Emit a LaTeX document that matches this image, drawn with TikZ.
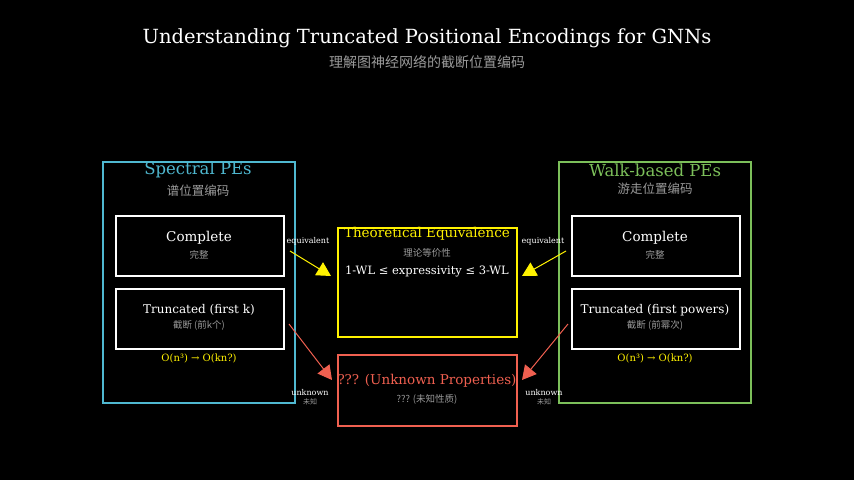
\documentclass[tikz,border=0pt]{standalone}
\usepackage{fontspec}
\setmainfont{DejaVu Serif}
\newfontfamily\cjk{Noto Sans CJK SC}
\usetikzlibrary{arrows.meta}
\definecolor{spec}{HTML}{4FB8D0}
\definecolor{walk}{HTML}{7CBF5A}
\definecolor{unk}{HTML}{F06050}
\definecolor{sub}{HTML}{9A9A9A}
\begin{document}
\begin{tikzpicture}[x=1pt,y=-1pt,
  every node/.style={inner sep=0pt},
  group/.style={draw, line width=2pt, minimum width=192pt, minimum height=241pt, anchor=north west},
  item/.style={draw=white, line width=2pt, minimum width=168pt, minimum height=60pt, anchor=north west},
  zh/.style={font=\cjk\fontsize{9.5}{11}\selectfont, text=sub},
  lbl/.style={font=\fontsize{8}{9}\selectfont, text=white},
  link/.style={line width=1pt, -{Triangle[length=14pt,width=15pt]}}]
\fill (0,0) rectangle (854,480);
\useasboundingbox (0,0) rectangle (854,480);
\node[font=\fontsize{19.5}{22}\selectfont, text=white] (title) at (427,38) {Understanding Truncated Positional Encodings for GNNs};
\node[zh, font=\cjk\fontsize{14}{16}\selectfont] (subtitle) at (427,62) {理解图神经网络的截断位置编码};
% spectral group
\node[group, draw=spec] (sp) at (102,161) {};
\node[font=\fontsize{16.5}{19}\selectfont, text=spec] at (198,170) {Spectral PEs};
\node[zh, font=\cjk\fontsize{12.5}{14}\selectfont] at (198,191) {谱位置编码};
\node[item] (spc) at (115,215) {};
\node[font=\fontsize{13.5}{16}\selectfont, text=white] at (199,238) {Complete};
\node[zh] at (199,255) {完整};
\node[item] (spt) at (115,288) {};
\node[font=\fontsize{12}{14}\selectfont, text=white] at (199,310) {Truncated (first k)};
\node[zh] at (199,325) {截断 (前k个)};
\node[font=\fontsize{10}{12}\selectfont, text=yellow] at (199,358) {O(n³) → O(kn?)};
% walk group
\node[group, draw=walk] (wk) at (558,161) {};
\node[font=\fontsize{16.5}{19}\selectfont, text=walk] at (655,170) {Walk-based PEs};
\node[zh, font=\cjk\fontsize{12.5}{14}\selectfont] at (655,189) {游走位置编码};
\node[item] (wkc) at (571,215) {};
\node[font=\fontsize{13.5}{16}\selectfont, text=white] at (655,238) {Complete};
\node[zh] at (655,255) {完整};
\node[item] (wkt) at (571,288) {};
\node[font=\fontsize{12}{14}\selectfont, text=white] at (655,310) {Truncated (first powers)};
\node[zh] at (655,325) {截断 (前幂次)};
\node[font=\fontsize{10}{12}\selectfont, text=yellow] at (655,358) {O(n³) → O(kn?)};
% center boxes
\node[draw=yellow, line width=2pt, minimum width=179pt, minimum height=109pt, anchor=north west] (th) at (337,227) {};
\node[font=\fontsize{13.5}{16}\selectfont, text=yellow] at (427,234) {Theoretical Equivalence};
\node[zh] at (427,253) {理论等价性};
\node[font=\fontsize{11.5}{13}\selectfont, text=white] at (427,272) {1-WL ≤ expressivity ≤ 3-WL};
\node[draw=unk, line width=2pt, minimum width=179pt, minimum height=71pt, anchor=north west] (un) at (337,354) {};
\node[font=\fontsize{13.5}{16}\selectfont, text=unk] at (427,381) {??? (Unknown Properties)};
\node[zh] at (427,399) {??? (未知性质)};
% links
\coordinate (thl) at (331,276);
\coordinate (thr) at (522,276);
\coordinate (unl) at (332,380);
\coordinate (unr) at (522,380);
\draw[link, yellow] (spc.east) ++(5,5) -- (thl);
\draw[link, yellow] (wkc.west) ++(-5,5) -- (thr);
\draw[link, unk] (spt.east) ++(4,5) -- (unl);
\draw[link, unk] (wkt.west) ++(-3,5) -- (unr);
\node[lbl] at (308,241) {equivalent};
\node[lbl] at (543,241) {equivalent};
\node[lbl] at (310,393) {unknown};
\node[zh, font=\cjk\fontsize{7}{8}\selectfont] at (310,402) {未知};
\node[lbl] at (544,393) {unknown};
\node[zh, font=\cjk\fontsize{7}{8}\selectfont] at (544,402) {未知};
\end{tikzpicture}
\end{document}
